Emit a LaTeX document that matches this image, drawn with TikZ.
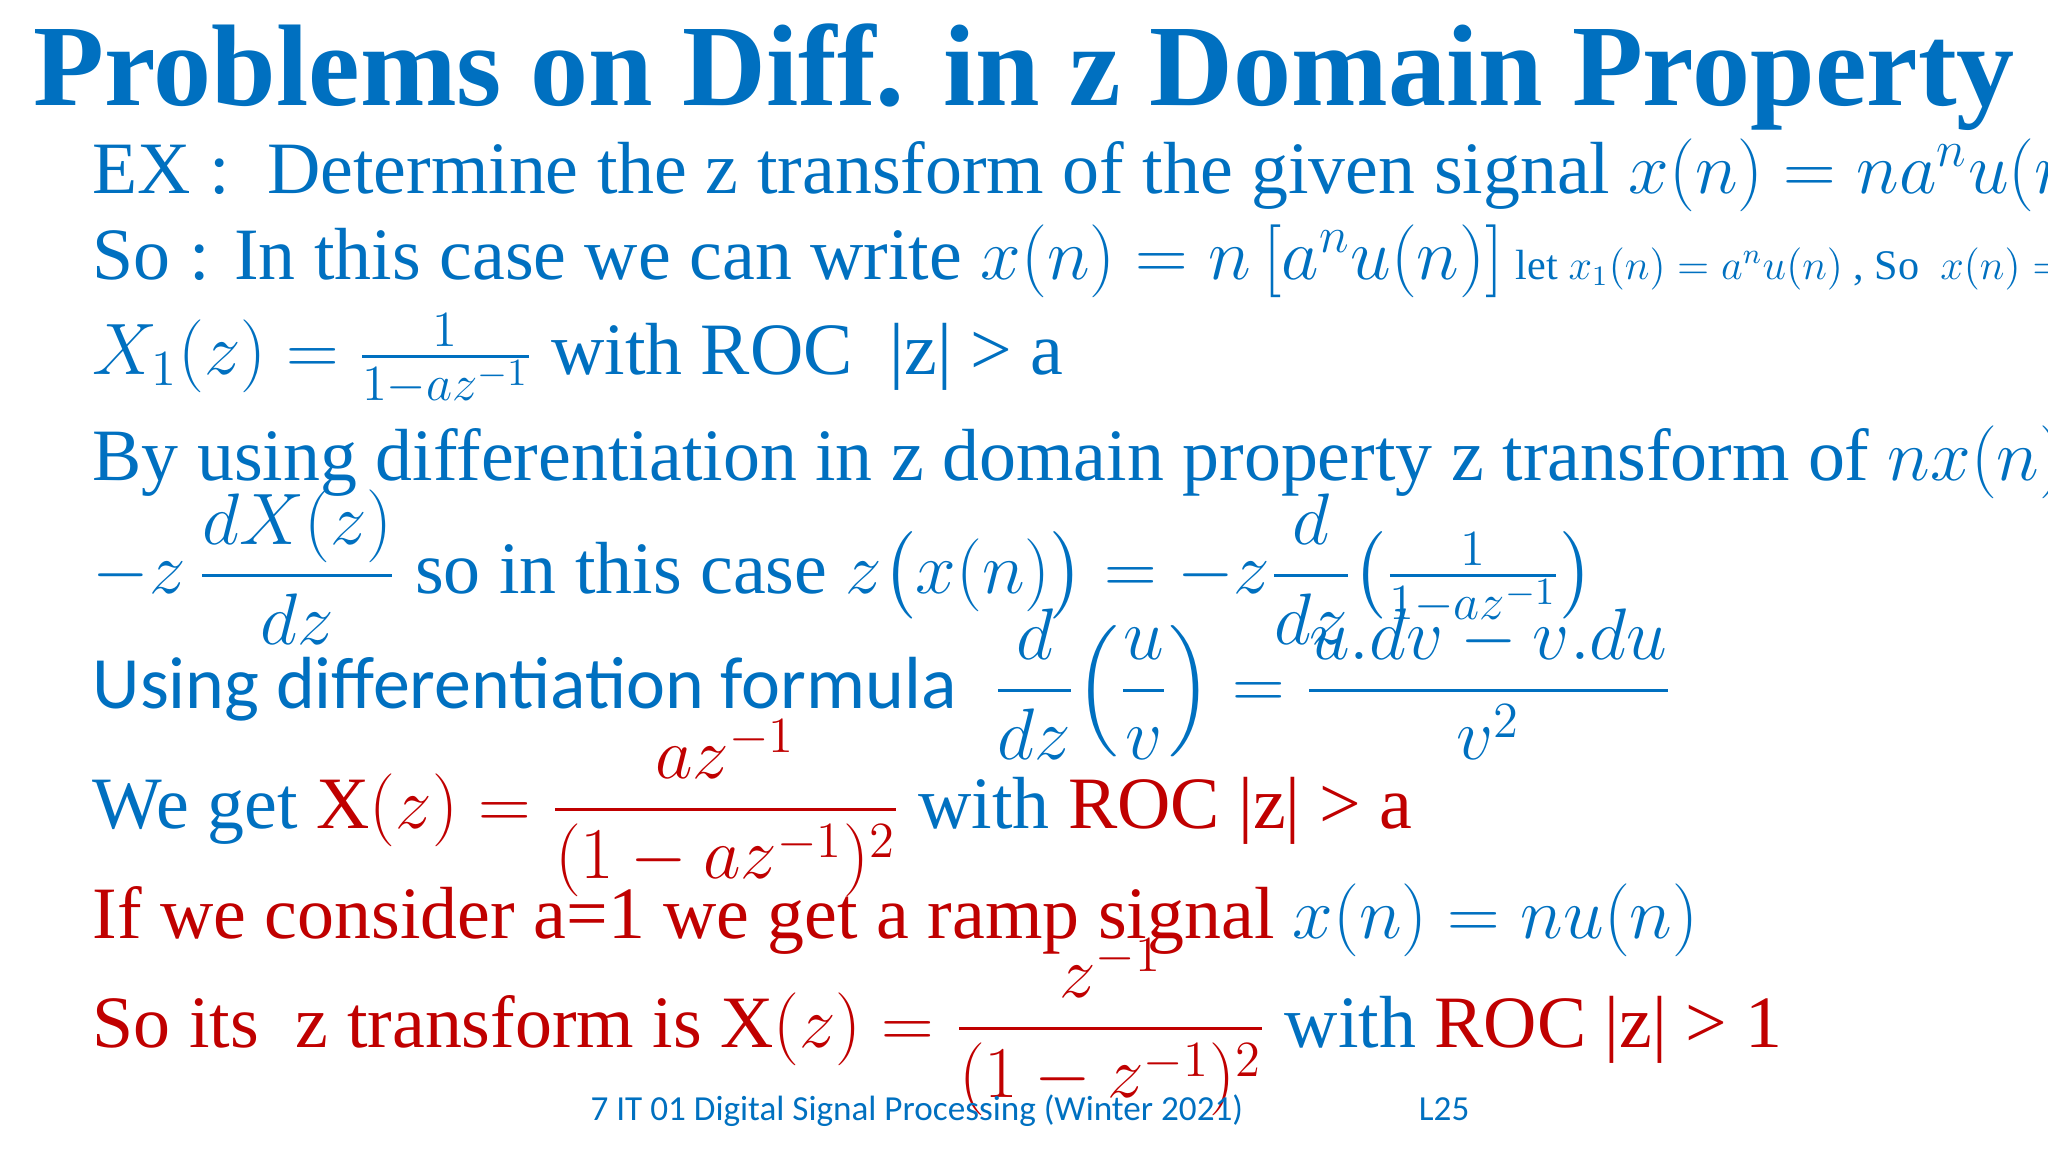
\documentclass[tikz,border=0pt]{standalone}
\usepackage{amsmath}
\usepackage{fontspec}
\setmainfont{Liberation Serif}
\newfontfamily\carl{Carlito}
\definecolor{bl}{RGB}{0,112,192}
\definecolor{rd}{RGB}{192,0,0}
\begin{document}
\begin{tikzpicture}[x=0.01cm,y=-0.01cm,
  ln/.style={anchor=west,inner sep=0,text=bl,font=\fontsize{21}{25}\selectfont}]
\useasboundingbox (0,0) rectangle (2048,1152);
\node[text=bl,font=\fontsize{33}{38}\bfseries\selectfont] (t) at (1024,77) {Problems on Diff. in z Domain Property};
\node[ln] (l1) at (92,175) {EX :\ \ Determine the z transform of the given signal $x(n)=na^nu(n)$};
\node[ln] (l2) at (92,261) {So : In this case we can write $x(n)=n\,[a^nu(n)]$\,{\fontsize{12}{14}\selectfont let $x_1(n)=a^nu(n)$ , So\ \ $x(n)=nx_1(n)$}};
\node[ln] (l3) at (92,359) {$X_1(z)=$\ $\frac{1}{1-az^{-1}}$ with ROC\ \ |z| > a};
\node[ln] (l4) at (92,462) {By using differentiation in z domain property z transform of $nx(n)$ is};
\node[ln] (l5) at (92,567) {$-z\,\dfrac{dX(z)}{dz}$ so in this case $z\big(x(n)\big)=-z\dfrac{d}{dz}\big(\frac{1}{1-az^{-1}}\big)$};
\node[ln] (l6) at (92,684) {{\carl Using differentiation formula}\ \ $\dfrac{d}{dz}\Big(\dfrac{u}{v}\Big)=\dfrac{u.dv-v.du}{v^2}$};
\node[ln] (l7) at (92,808) {We get \textcolor{rd}{X$(z)=\dfrac{az^{-1}}{(1-az^{-1})^2}$} with \textcolor{rd}{ROC |z| > a}};
\node[ln,text=rd] (l8) at (92,920) {If we consider a=1 we get a ramp signal \textcolor{bl}{$x(n)=nu(n)$}};
\node[ln,text=rd] (l9) at (92,1027) {So its\ \ z transform is X$(z)=\dfrac{z^{-1}}{(1-z^{-1})^2}$ \textcolor{bl}{with} ROC |z| > 1};
\node[text=bl,font=\carl\fontsize{10}{12}\selectfont] (f) at (1030,1111) {7 IT 01 Digital Signal Processing (Winter 2021)\hspace{5em}L25};
\end{tikzpicture}
\end{document}
